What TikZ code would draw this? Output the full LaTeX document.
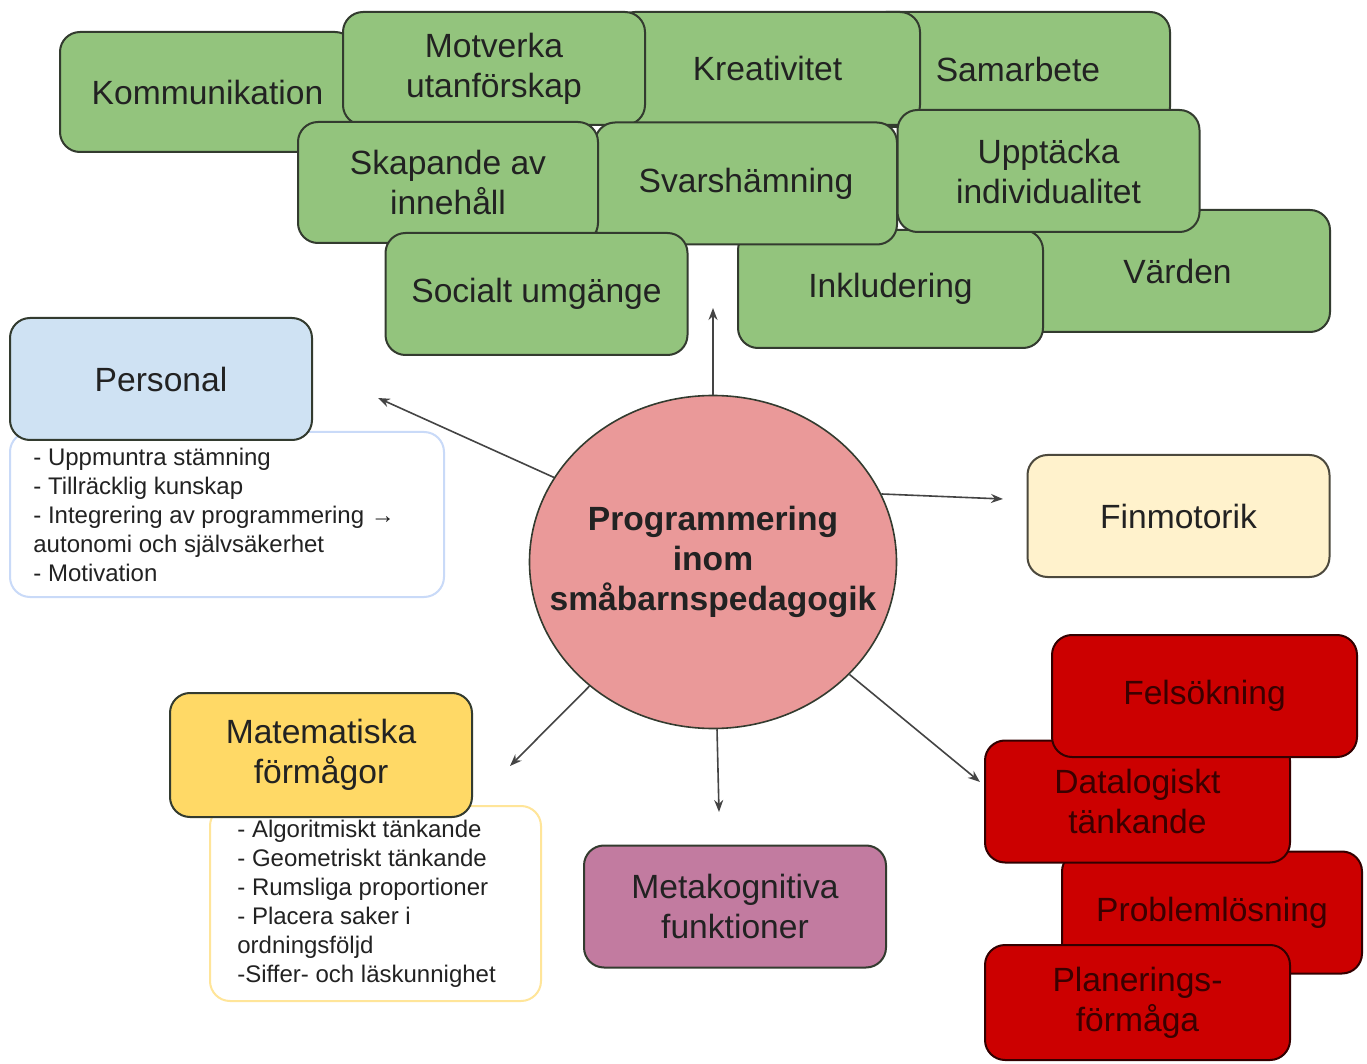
\documentclass[tikz,border=0pt]{standalone}
\usepackage{fontspec}
\setmainfont{Liberation Sans}
\usetikzlibrary{arrows.meta,shapes.geometric}
\definecolor{boxgreen}{HTML}{93C47D}
\definecolor{boxblue}{HTML}{CFE2F3}
\definecolor{boxcream}{HTML}{FFF2CC}
\definecolor{boxyellow}{HTML}{FFD966}
\definecolor{boxpurple}{HTML}{C27BA0}
\definecolor{boxred}{HTML}{CC0000}
\definecolor{boxpink}{HTML}{EA9999}
\definecolor{edgedark}{HTML}{333B2F}
\definecolor{inkdark}{HTML}{222222}
\definecolor{inkred}{HTML}{3A0000}
\definecolor{noteblue}{HTML}{C9DAF8}
\definecolor{noteyellow}{HTML}{FFE599}
\definecolor{linkgray}{HTML}{444444}

\begin{document}
\begin{tikzpicture}[x=0.5pt,y=-0.5pt,
    card/.style={rectangle, rounded corners=10pt, draw=edgedark, line width=1pt,
      minimum width=151pt, minimum height=61pt, inner sep=0pt, align=center,
      font=\fontsize{16.8}{20}\selectfont, text=inkdark},
    greencard/.style={card, fill=boxgreen},
    redcard/.style={card, fill=boxred, draw=black!75!boxred, text=inkred},
    notecard/.style={rectangle, rounded corners=10pt, draw=#1, line width=1pt,
      fill=white, inner sep=0pt},
    notetext/.style={align=left, anchor=west, inner sep=0pt,
      font=\fontsize{12}{14.5}\selectfont, text=inkdark},
    link/.style={draw=linkgray, line width=0.8pt, -{Stealth[length=6pt,width=4.5pt]}}]
  \fill[white] (0,0) rectangle (1367,1064);

  % green cluster at the top
  \node[greencard, minimum width=147.5pt, minimum height=60pt] (komm) at (207.5,92) {Kommunikation};
  \node[greencard, minimum width=152pt, minimum height=57.5pt] (samar) at (1018,69.5) {Samarbete};
  \node[greencard, minimum width=152.5pt, minimum height=56.5pt] (kreat) at (767.5,68.5) {Kreativitet};
  \node[greencard, minimum height=56.5pt] (motv) at (494,68.5) {Motverka\\utanförskap};
  \node[greencard, minimum width=152.5pt] (vard) at (1177.5,271) {Värden};
  \node[greencard, minimum width=152.5pt, minimum height=59pt] (inkl) at (890.5,289) {Inkludering};
  \node[greencard] (svar) at (746,183.5) {Svarshämning};
  \node[greencard, minimum width=150pt, minimum height=60.5pt] (skap) at (448,182.5) {Skapande av\\innehåll};
  \node[greencard] (uppt) at (1048.5,171) {Upptäcka\\individualitet};
  \node[greencard] (soc) at (536.5,294) {Socialt umgänge};

  % personal
  \node[notecard=noteblue, minimum width=217pt, minimum height=82.5pt] (perslist) at (227,514.5) {};
  \node[notetext] (perstext) at (33,515) {- Uppmuntra stämning\\- Tillräcklig kunskap\\- Integrering av programmering →\\autonomi och självsäkerhet\\- Motivation};
  \node[card, fill=boxblue] (pers) at (161,379) {Personal};

  % right side
  \node[card, fill=boxcream, draw=black!70!boxcream] (finm) at (1178.5,516) {Finmotorik};

  \node[redcard, minimum width=150pt] (prob) at (1212,912.5) {Problemlösning};
  \node[redcard, minimum width=152.5pt] (data) at (1137.5,801.5) {Datalogiskt\\tänkande};
  \node[redcard, minimum width=152.5pt] (fels) at (1204.5,696) {Felsökning};
  \node[redcard, minimum width=152.5pt, minimum height=57.5pt] (plan) at (1137.5,1002.5) {Planerings-\\förmåga};

  % lower left
  \node[notecard=noteyellow, minimum width=165.5pt, minimum height=97.5pt] (mathlist) at (375.5,903.5) {};
  \node[notetext] (mathtext) at (237,903.5) {- Algoritmiskt tänkande\\- Geometriskt tänkande\\- Rumsliga proportioner\\- Placera saker i\\ordningsföljd\\-Siffer- och läskunnighet};
  \node[card, fill=boxyellow, minimum height=62pt] (math) at (321,755) {Matematiska\\förmågor};

  \node[card, fill=boxpurple] (meta) at (735,906.5) {Metakognitiva\\funktioner};

  % centre
  \node[ellipse, draw=edgedark, line width=0.8pt, fill=boxpink, minimum width=183.5pt,
    minimum height=166.5pt, inner sep=0pt] (prog) at (713,562) {};
  \node[align=center, inner sep=0pt, text=inkdark,
    font=\bfseries\fontsize{16.8}{20}\selectfont] (progtext) at (prog)
    {Programmering\\inom\\småbarnspedagogik};

  % arrow ends
  \coordinate (tUp) at (713,308);
  \coordinate (tPers) at (378,398);
  \coordinate (tFin) at (1003,499);
  \coordinate (tRed) at (980,782);
  \coordinate (tMeta) at (719,812);
  \coordinate (tMath) at (510,766);

  \draw[link] (prog) -- (tUp);
  \draw[link] (prog.152) -- (tPers);
  \draw[link] (prog.22) -- (tFin);
  \draw[link] (prog) -- (tRed);
  \draw[link] (prog) -- (tMeta);
  \draw[link] (prog) -- (tMath);
\end{tikzpicture}
\end{document}
